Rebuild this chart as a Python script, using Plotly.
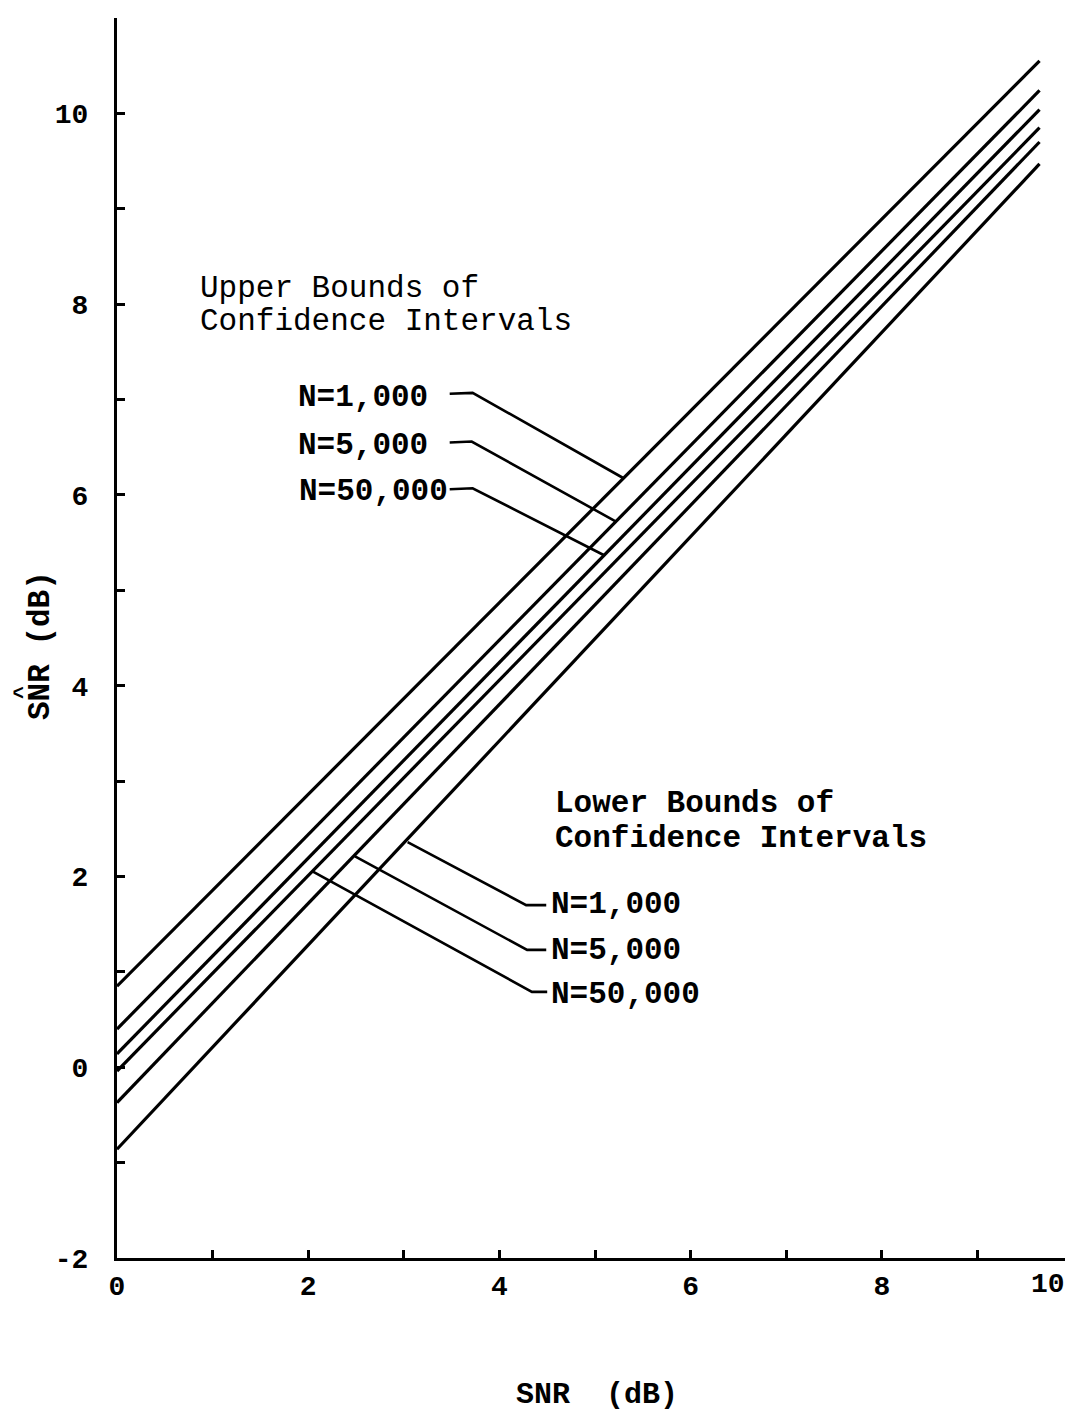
import plotly.graph_objects as go

# ---- data ----
line_x = [0.0, 9.65]
upper_n1000 = [0.85, 10.55]
upper_n5000 = [0.40, 10.24]
upper_n50000 = [0.14, 10.04]
lower_n50000 = [-0.04, 9.85]
lower_n5000 = [-0.37, 9.70]
lower_n1000 = [-0.86, 9.47]

lead_up_1000_x = [3.48, 3.72, 5.29]
lead_up_1000_y = [7.06, 7.07, 6.18]
lead_up_5000_x = [3.48, 3.71, 5.22]
lead_up_5000_y = [6.55, 6.56, 5.72]
lead_up_50000_x = [3.48, 3.72, 5.09]
lead_up_50000_y = [6.06, 6.07, 5.37]
lead_lo_1000_x = [3.04, 4.28, 4.49]
lead_lo_1000_y = [2.36, 1.70, 1.70]
lead_lo_5000_x = [2.49, 4.29, 4.49]
lead_lo_5000_y = [2.21, 1.23, 1.23]
lead_lo_50000_x = [2.05, 4.34, 4.50]
lead_lo_50000_y = [2.05, 0.79, 0.79]

x_ticks = list(range(0, 10))
x_ticktext = ["0", "", "2", "", "4", "", "6", "", "8", ""]
x_last_label = "10"
y_ticks = list(range(-2, 12))
y_ticktext = ["-2", "", "0", "", "2", "", "4", "", "6", "", "8", "", "10", ""]

# ---- figure (page has an 8px body margin on every side) ----
PAGE_W, PAGE_H, BODY = 1073, 1422, 8
X0, X1, Y0, Y1 = 117, PAGE_W - BODY, 18, 1258   # plot area in page pixels
UNIT_X = 95.6                                  # px per x unit in the reference
W, H = PAGE_W - 2 * BODY, PAGE_H - 2 * BODY
ML, MT = X0 - BODY, Y0 - BODY
MR = W - (X1 - BODY)
MB = H - (Y1 - BODY)
PW, PH = X1 - X0, Y1 - Y0
x_max = PW / UNIT_X


def px(x):
    return (x - X0) / PW


def py(y):
    return (Y1 - y) / PH


fig = go.Figure()

bounds = [
    ("Upper N=1,000", upper_n1000),
    ("Upper N=5,000", upper_n5000),
    ("Upper N=50,000", upper_n50000),
    ("Lower N=50,000", lower_n50000),
    ("Lower N=5,000", lower_n5000),
    ("Lower N=1,000", lower_n1000),
]
for name, ys in bounds:
    fig.add_trace(go.Scatter(x=line_x, y=ys, mode="lines", name=name,
                             line=dict(color="black", width=3.2)))

leaders = [
    (lead_up_1000_x, lead_up_1000_y),
    (lead_up_5000_x, lead_up_5000_y),
    (lead_up_50000_x, lead_up_50000_y),
    (lead_lo_1000_x, lead_lo_1000_y),
    (lead_lo_5000_x, lead_lo_5000_y),
    (lead_lo_50000_x, lead_lo_50000_y),
]
for lx, ly in leaders:
    fig.add_trace(go.Scatter(x=lx, y=ly, mode="lines", showlegend=False,
                             line=dict(color="black", width=2.6)))

FONT = "Liberation Mono"
ann = []


def text(t, x, y, xanchor="left", size=31, bold=True, angle=0):
    ann.append(dict(text=(f"<b>{t}</b>" if bold else t), x=px(x), y=py(y),
                    xref="paper", yref="paper", xanchor=xanchor,
                    yanchor="middle", showarrow=False, textangle=angle,
                    font=dict(family=FONT, size=size, color="black")))


text("Upper Bounds of", 198, 289, bold=False)
text("Confidence Intervals", 198, 321, bold=False)
text("N=1,000", 430, 398, xanchor="right")
text("N=5,000", 430, 445, xanchor="right")
text("N=50,000", 450, 492, xanchor="right")

text("Lower Bounds of", 553, 803)
text("Confidence Intervals", 553, 838)
text("N=1,000", 549, 904)
text("N=5,000", 549, 950)
text("N=50,000", 549, 995)

text(x_last_label, 1048, 1284, xanchor="center", size=28)

text("SNR  (dB)", 597, 1395, xanchor="center", size=30)
text("SNR (dB)", 40, 646, xanchor="center", angle=-90)
text("^", 23, 693, xanchor="center", size=22, angle=-90)

tickfont = dict(family=FONT, size=28, color="black", weight="bold")
fig.update_layout(
    width=W, height=H,
    margin=dict(l=ML, r=MR, t=MT, b=MB, pad=0),
    paper_bgcolor="white", plot_bgcolor="white",
    showlegend=False,
    annotations=ann,
    xaxis=dict(range=[0, x_max], showgrid=False, zeroline=False,
               showline=True, linecolor="black", linewidth=3,
               ticks="inside", ticklen=8, tickwidth=2.5, tickcolor="black",
               tickvals=x_ticks, ticktext=x_ticktext,
               ticklabelstandoff=0,
               tickfont=tickfont),
    yaxis=dict(range=[-2, 11], showgrid=False, zeroline=False,
               showline=True, linecolor="black", linewidth=3,
               ticks="inside", ticklen=8, tickwidth=2.5, tickcolor="black",
               tickvals=y_ticks, ticktext=y_ticktext,
               ticklabelstandoff=20,
               tickfont=tickfont),
)

fig.write_html("out.html")
